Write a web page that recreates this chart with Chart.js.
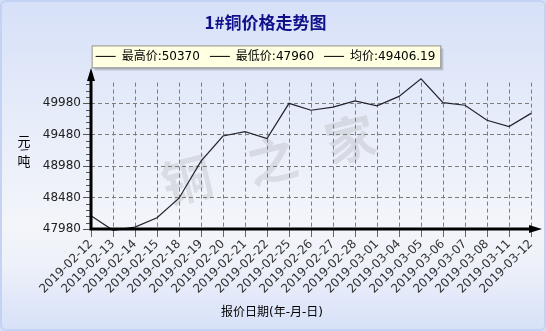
<!DOCTYPE html>
<html>
<head>
<meta charset="utf-8">
<script src="https://cdn.jsdelivr.net/npm/chart.js@4.4.1/dist/chart.umd.min.js"></script>
<style>
  html, body { margin: 0; padding: 0; background: #fff; }
  #wrap {
    position: relative; width: 546px; height: 331px; overflow: hidden;
    background: linear-gradient(#d6e0f8 0%, #e6ecf9 35%, #f3f5fa 68%, #eef1f9 80%, #d6e0f8 100%);
  }
  #frame {
    position: absolute; left: 0; top: 0; width: 546px; height: 331px; box-sizing: border-box;
    border: 2px solid #c4d2f3; border-radius: 6px; pointer-events: none;
  }
  canvas { position: absolute; left: 0; top: 0; }
</style>
</head>
<body>
<div id="wrap">
  <canvas id="cu" width="546" height="331"></canvas>
  <div id="frame"></div>
</div>
<script>
// 1#铜价格走势图 — 日报价 (元/吨)
const dates = [
  "2019-02-12", "2019-02-13", "2019-02-14", "2019-02-15", "2019-02-18", "2019-02-19",
  "2019-02-20", "2019-02-21", "2019-02-22", "2019-02-25", "2019-02-26", "2019-02-27",
  "2019-02-28", "2019-03-01", "2019-03-04", "2019-03-05", "2019-03-06", "2019-03-07",
  "2019-03-08", "2019-03-11", "2019-03-12",
];
const prices = [
  48190, 47960, 48010, 48160, 48470, 49060, 49460, 49530, 49420, 49980, 49870,
  49920, 50020, 49940, 50090, 50370, 49990, 49950, 49710, 49610, 49820,
];
const yTicks = [47980, 48480, 48980, 49480, 49980];

const hi = Math.max(...prices);
const lo = Math.min(...prices);
const avg = prices.reduce((a, b) => a + b, 0) / prices.length;
const legendTexts = ["最高价:" + hi, "最低价:" + lo, "均价:" + avg.toFixed(2)];

const FONT = "'DejaVu Sans', 'Noto Sans CJK SC', sans-serif";
const CJK = "'Noto Sans CJK SC', sans-serif";

// 坐标轴(带箭头)、次刻度、水印、轴标题、图例底框
const deco = {
  id: "deco",
  beforeDraw(chart) {
    const { ctx } = chart;
    // 水印 铜之家
    ctx.save();
    ctx.fillStyle = "rgba(165,165,170,0.28)";
    ctx.font = "bold 50px " + CJK;
    ctx.textAlign = "center"; ctx.textBaseline = "middle";
    [["铜", 187, 180], ["之", 272, 160], ["家", 350, 139]].forEach(([t, x, y]) => {
      ctx.save(); ctx.translate(x, y); ctx.rotate(-0.24); ctx.fillText(t, 0, 0); ctx.restore();
    });
    ctx.restore();

    // 图例底框
    const boxes = chart.legend && chart.legend.legendHitBoxes;
    if (boxes && boxes.length) {
      const l = Math.min(...boxes.map(b => b.left)) - 4;
      const r = Math.max(...boxes.map(b => b.left + b.width)) + 5;
      const t = boxes[0].top - 5;
      const h = boxes[0].height + 10;
      ctx.save();
      ctx.fillStyle = "rgba(120,120,120,0.35)";
      ctx.fillRect(l + 3, t + 3, r - l, h);
      ctx.fillStyle = "#ffffe1";
      ctx.strokeStyle = "#8c8c8c"; ctx.lineWidth = 1;
      ctx.fillRect(l, t, r - l, h);
      ctx.strokeRect(l + 0.5, t + 0.5, r - l, h);
      ctx.restore();
    }
  },
  afterDatasetsDraw(chart) {
    const { ctx, chartArea: a, scales: { y } } = chart;
    ctx.save();
    // 次刻度
    ctx.strokeStyle = "#555"; ctx.lineWidth = 1;
    for (let v = 48080; v <= 50380; v += 100) {
      if (yTicks.includes(v)) continue;
      const py = Math.round(y.getPixelForValue(v)) + 0.5;
      if (py < 80) continue;
      ctx.beginPath(); ctx.moveTo(a.left - 5, py); ctx.lineTo(a.left, py); ctx.stroke();
    }
    // 轴线
    ctx.strokeStyle = "#000"; ctx.fillStyle = "#000"; ctx.lineWidth = 3;
    ctx.beginPath();
    ctx.moveTo(a.left, 79); ctx.lineTo(a.left, a.bottom); ctx.lineTo(531, a.bottom);
    ctx.stroke();
    ctx.beginPath();
    ctx.moveTo(a.left, 68); ctx.lineTo(a.left - 4, 81); ctx.lineTo(a.left + 4, 81); ctx.closePath(); ctx.fill();
    ctx.beginPath();
    ctx.moveTo(542, a.bottom); ctx.lineTo(529, a.bottom - 4); ctx.lineTo(529, a.bottom + 4); ctx.closePath(); ctx.fill();

    // 轴标题
    ctx.fillStyle = "#000";
    ctx.font = "13px " + CJK;
    ctx.textAlign = "center"; ctx.textBaseline = "middle";
    ctx.fillText("元", 24, 141);
    ctx.fillText("吨", 24, 161);
    ctx.save(); ctx.translate(24, 150); ctx.rotate(Math.PI / 2.6);
    ctx.font = "9px " + FONT; ctx.fillText("/", 0, 0); ctx.restore();
    ctx.font = "12px " + FONT;
    ctx.fillText("报价日期(年-月-日)", 272, 313);
    ctx.restore();
  },
};

new Chart(document.getElementById("cu"), {
  type: "line",
  data: {
    labels: dates,
    datasets: [{
      data: prices, borderColor: "#22222e", borderWidth: 1.2, tension: 0,
      pointRadius: 0, fill: false, clip: false,
    }],
  },
  options: {
    responsive: false, animation: false, events: [],
    layout: { padding: { left: 0, right: 15, top: 0, bottom: 0 } },
    plugins: {
      title: {
        display: true, text: "1#铜价格走势图", color: "#10108a",
        font: { family: CJK, size: 17, weight: "bold" }, padding: { top: 12, bottom: 8 },
      },
      // 图例与绘图区之间的空白
      subtitle: {
        display: true, text: "", weight: 500,
        font: { size: 1 }, padding: { top: 9, bottom: 0 },
      },
      legend: {
        display: true,
        labels: {
          color: "#000", font: { family: FONT, size: 12 }, padding: 10,
          usePointStyle: true, pointStyleWidth: 20,
          generateLabels: () => legendTexts.map((t, i) => ({
            text: t, pointStyle: "line", strokeStyle: "#000", fillStyle: "#000",
            lineWidth: 1, hidden: false, datasetIndex: 0, index: i,
          })),
        },
      },
      tooltip: { enabled: false },
    },
    scales: {
      x: {
        offset: false,
        afterFit: (s) => { s.height = 102; },
        grid: {
          color: "#7c7c7c", lineWidth: 1, tickLength: 8, tickColor: "#666",
          tickBorderDash: [],
        },
        border: { display: false, dash: [4, 3] },
        ticks: {
          autoSkip: false, maxRotation: 45, minRotation: 45, padding: 0,
          color: "#333", font: { family: FONT, size: 12 },
        },
      },
      y: {
        min: 47980, max: 50310,
        afterFit: (s) => { s.width = 91; },
        afterBuildTicks: (s) => { s.ticks = yTicks.map((v) => ({ value: v })); },
        grid: {
          color: "#7c7c7c", lineWidth: 1, tickLength: 8, tickColor: "#555",
          tickBorderDash: [],
        },
        border: { display: false, dash: [4, 3] },
        ticks: {
          padding: 2, color: "#222", font: { family: FONT, size: 12 },
          callback: (v) => String(v),
        },
      },
    },
  },
  plugins: [deco],
});
</script>
</body>
</html>
